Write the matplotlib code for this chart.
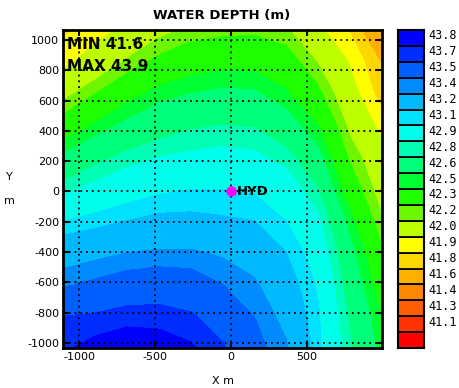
import numpy as np
import matplotlib
matplotlib.use("Agg")
import matplotlib.pyplot as plt
from matplotlib.colors import ListedColormap, BoundaryNorm

# ---- data ----
x_nodes = [-1105, -895, -685, -475, -265, -55, 155, 365, 575, 785, 995]
y_nodes = [1066, 856, 646, 436, 226, 16, -194, -404, -614, -824, -1034]

# water depth (m) on grid: rows = y_nodes (top to bottom), cols = x_nodes
depth = [
    [41.88, 41.95, 42.03, 42.15, 42.23, 42.26, 42.27, 42.22, 42.03, 41.89, 41.63],
    [41.96, 42.07, 42.22, 42.34, 42.42, 42.45, 42.45, 42.38, 42.19, 41.99, 41.79],
    [42.15, 42.30, 42.44, 42.55, 42.60, 42.63, 42.62, 42.52, 42.34, 42.06, 41.85],
    [42.38, 42.52, 42.64, 42.72, 42.78, 42.80, 42.79, 42.68, 42.50, 42.16, 41.96],
    [42.63, 42.75, 42.84, 42.90, 42.93, 42.95, 42.93, 42.85, 42.65, 42.28, 42.06],
    [42.86, 42.95, 43.02, 43.07, 43.10, 43.10, 43.08, 43.00, 42.80, 42.40, 42.13],
    [43.10, 43.15, 43.20, 43.24, 43.24, 43.22, 43.20, 43.10, 42.93, 42.55, 42.22],
    [43.32, 43.36, 43.40, 43.42, 43.42, 43.38, 43.33, 43.20, 43.02, 42.65, 42.33],
    [43.48, 43.53, 43.58, 43.60, 43.58, 43.50, 43.42, 43.28, 43.08, 42.72, 42.42],
    [43.70, 43.72, 43.76, 43.76, 43.72, 43.62, 43.50, 43.35, 43.12, 42.78, 42.50],
    [43.78, 43.85, 43.88, 43.86, 43.82, 43.72, 43.55, 43.42, 43.13, 42.82, 42.55],
]

level_labels = ["41.1", "41.3", "41.4", "41.6", "41.8", "41.9", "42.0", "42.2", "42.3",
                "42.5", "42.6", "42.8", "42.9", "43.1", "43.2", "43.4", "43.5", "43.7", "43.8"]
levels = [float(v) for v in level_labels]

box_colors = [
    "#ff0000", "#ff3200", "#ff5f00", "#ff8700", "#ffaf00", "#ffd700", "#ffff00",
    "#beff00", "#6ef500", "#1eff00", "#00ff32", "#00ff78", "#00ffb4", "#00ffeb",
    "#00e1ff", "#00b9ff", "#008cff", "#005fff", "#002dff", "#0000ff",
]

xticks = [-1000, -500, 0, 500]
yticks = [-1000, -800, -600, -400, -200, 0, 200, 400, 600, 800, 1000]
hyd_x, hyd_y = 0, 0
min_depth, max_depth = 41.6, 43.9

# ---- figure ----
W, H = 459, 388
fig = plt.figure(figsize=(W / 100, H / 100), dpi=100)
plt.rcParams["font.family"] = ["DejaVu Sans"]

def px_rect(l, t, r, b):
    return [l / W, 1 - b / H, (r - l) / W, (b - t) / H]

ax = fig.add_axes(px_rect(63.4, 30, 381.5, 348))

X, Y = np.meshgrid(np.array(x_nodes), np.array(y_nodes))
Z = np.array(depth)
cmap = ListedColormap(box_colors[1:-1])
cmap.set_under(box_colors[0])
cmap.set_over(box_colors[-1])
norm = BoundaryNorm(levels, cmap.N)
ax.contourf(X, Y, Z, levels=levels, cmap=cmap, norm=norm, extend="both")

ax.set_xlim(-1106, 995)
ax.set_ylim(-1033, 1066)
ax.set_xticks(xticks)
ax.set_yticks(yticks)
ax.set_xticklabels([str(v) for v in xticks], fontsize=8)
ax.set_yticklabels([str(v) for v in yticks], fontsize=8)
ax.tick_params(direction="in", length=4, width=1.5, top=True, right=True,
               labelsize=8, pad=3)
for s in ax.spines.values():
    s.set_linewidth(2)
ax.grid(True, color="black", linestyle=(0, (1, 2.2)), linewidth=1.3)
ax.set_axisbelow(False)

ax.plot([hyd_x], [hyd_y], "o", color="#ff00ff", ms=6.5, zorder=5)
ax.text(hyd_x + 40, hyd_y, "HYD", fontsize=9.5, fontweight="bold",
        va="center", ha="left", zorder=6)

ax.text(0.012, 0.953, f"MIN {min_depth:.1f}", transform=ax.transAxes,
        fontsize=11, fontweight="bold", va="center", ha="left")
ax.text(0.012, 0.885, f"MAX {max_depth:.1f}", transform=ax.transAxes,
        fontsize=11, fontweight="bold", va="center", ha="left")

fig.text(222 / W, 1 - 15 / H, "WATER DEPTH (m)", fontsize=9.5, fontweight="bold",
         ha="center", va="center")
fig.text(223 / W, 1 - 381 / H, "X m", fontsize=8, ha="center", va="center")
fig.text(9 / W, 1 - 177 / H, "Y", fontsize=8, ha="center", va="center")
fig.text(9 / W, 1 - 201 / H, "m", fontsize=8, ha="center", va="center")

# ---- colour bar ----
cax = fig.add_axes(px_rect(398, 30, 424, 348))
for i, c in enumerate(box_colors):
    cax.bar(0, 1, bottom=i, width=1, color=c, edgecolor="black", linewidth=1.3)
cax.set_xlim(-0.5, 0.5)
cax.set_ylim(0, len(box_colors))
cax.set_xticks([])
cax.yaxis.tick_right()
cax.set_yticks([i + 0.72 for i in range(1, len(box_colors))])
cax.set_yticklabels(level_labels, fontsize=8.5, family="DejaVu Sans Mono")
cax.tick_params(axis="y", length=0, pad=3)
for s in cax.spines.values():
    s.set_linewidth(1.5)

fig.savefig("out.png", dpi=100)
